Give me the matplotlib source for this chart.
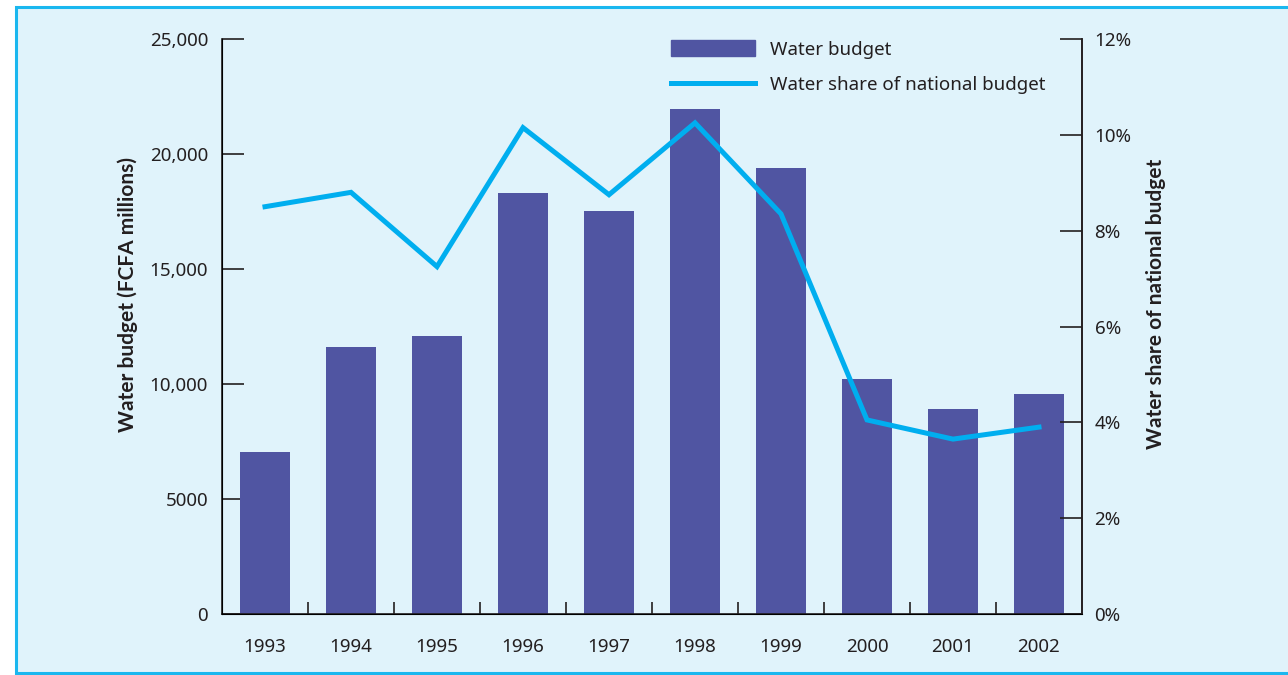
import numpy as np
import matplotlib
matplotlib.use("Agg")
import matplotlib.pyplot as plt
from matplotlib.patches import Rectangle
from matplotlib.lines import Line2D

years = ["1993", "1994", "1995", "1996", "1997", "1998", "1999", "2000", "2001", "2002"]
water_budget = [7050, 11600, 12100, 18300, 17500, 21950, 19400, 10200, 8900, 9550]
water_share = [8.5, 8.8, 7.25, 10.15, 8.75, 10.25, 8.35, 4.05, 3.65, 3.9]

left_ticks = [0, 5000, 10000, 15000, 20000, 25000]
left_labels = ["0", "5000", "10,000", "15,000", "20,000", "25,000"]
right_ticks = [0, 2, 4, 6, 8, 10, 12]
right_labels = ["0%", "2%", "4%", "6%", "8%", "10%", "12%"]

bar_col = "#5055a2"
line_col = "#00aeef"
ink = "#231f20"
bg = "#e0f3fb"

plt.rcParams['font.family'] = ['Noto Sans', 'DejaVu Sans']
label_font = ['Lato', 'Noto Sans', 'DejaVu Sans']

W, H = 1288, 675
fig = plt.figure(figsize=(W/100, H/100), dpi=100)
fig.patch.set_facecolor("white")
# light blue panel with bright blue frame (right side runs off the image)
fig.add_artist(Rectangle((16/W, 2/H), 1.2, 1 - 9/H, transform=fig.transFigure,
                         facecolor=bg, edgecolor="#1ab7ef", linewidth=2.2, zorder=0))

ax = fig.add_axes([222/W, 1 - 614/H, 860/W, 575/H])
ax.set_facecolor("none")
x = np.arange(len(years))
ax.bar(x, water_budget, width=0.57, color=bar_col, zorder=2)
ax.set_xlim(-0.5, len(years) - 0.5)
ax.set_ylim(0, 25000)

ax.spines["top"].set_visible(False)
for s in ["left", "bottom", "right"]:
    ax.spines[s].set_color(ink)
    ax.spines[s].set_linewidth(1.2)

ax.set_yticks(left_ticks)
ax.set_yticklabels(left_labels)
ax.tick_params(axis="y", direction="in", length=16, width=1.2, color=ink,
               labelsize=13.5, labelcolor=ink, pad=10)
ax.set_xticks(x[:-1] + 0.5)
ax.set_xticklabels([])
ax.set_xticks(x, minor=True)
ax.set_xticklabels(years, minor=True)
ax.tick_params(axis="x", which="major", direction="in", length=9, width=1.2, color=ink)
ax.tick_params(axis="x", which="minor", length=0, labelsize=13.5, labelcolor=ink, pad=17)
ax.set_ylabel("Water budget (FCFA millions)", fontsize=15, fontweight="bold",
              family=label_font, color=ink)
ax.yaxis.set_label_coords((138 - 222) / 860, 0.555)

ax2 = ax.twinx()
ax2.plot(x, water_share, color=line_col, linewidth=3.6, zorder=3, solid_joinstyle="miter")
ax2.set_ylim(0, 12)
ax2.spines["top"].set_visible(False)
ax2.spines["right"].set_color(ink)
ax2.spines["right"].set_linewidth(1.2)
ax2.set_yticks(right_ticks)
ax2.set_yticklabels(right_labels)
ax2.tick_params(axis="y", direction="in", length=16, width=1.2, color=ink,
                labelsize=13.5, labelcolor=ink, pad=9)
ax2.set_ylabel("Water share of national budget", fontsize=15, fontweight="bold",
               family=label_font, color=ink)
ax2.yaxis.set_label_coords((1146 - 222) / 860, 0.539)

handles = [Rectangle((0, 0), 1, 1, color=bar_col),
           Line2D([0], [0], color=line_col, linewidth=3.6)]
leg = ax2.legend(handles, ["Water budget", "Water share of national budget"],
                 loc="upper left", bbox_to_anchor=(671/W, 1 - 40/H),
                 bbox_transform=fig.transFigure, frameon=False, fontsize=13.5,
                 handlelength=4.5, handleheight=0.95, handletextpad=0.8,
                 labelspacing=0.92, borderpad=0, borderaxespad=0)
for t in leg.get_texts():
    t.set_color(ink)

fig.savefig("out.png", dpi=100)
